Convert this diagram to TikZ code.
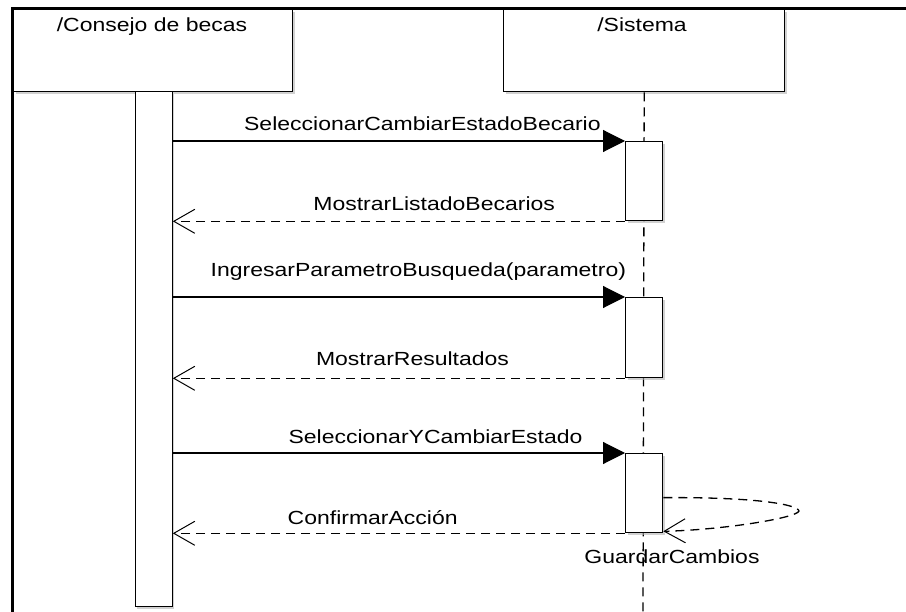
\documentclass[tikz,border=0pt]{standalone}
\usepackage{fontspec}
\setmainfont{Liberation Sans}[FakeStretch=1.21]
\usetikzlibrary{arrows.meta,positioning,shadows}

\begin{document}
\begin{tikzpicture}[x=1pt,y=-1pt,
    txt/.style={font=\fontsize{19}{21}\selectfont, inner sep=0pt},
    lbl/.style={txt, anchor=base},
    boxshadow/.style={drop shadow={shadow xshift=2pt, shadow yshift=-2pt, fill=black!30, opacity=0.6}},
    objbox/.style={draw, line width=1.4pt, fill=white, anchor=north west, inner sep=0pt, boxshadow},
    actbar/.style={draw, line width=1.3pt, fill=white, anchor=north west, inner sep=0pt, minimum width=37, boxshadow},
    lifeline/.style={line width=1.3pt, dash pattern=on 9pt off 6pt},
    call/.style={line width=1.1pt, -{Triangle[length=22pt, width=22pt]}},
    reply/.style={line width=1.3pt, dash pattern=on 9pt off 6pt, -{Straight Barb[length=21pt, width=24pt, line width=1pt]}}]
	%%%%% START %%%%%
	\useasboundingbox (0,0) rectangle (906,612);
	
	% frame
	\draw[line width=3pt] (906,9) -- (12.5,9) -- (12.5,612);
	
	% objects
	\node[objbox, minimum width=279, minimum height=82] (consejo) at (13,9) {};
	\node[lbl] (consejolbl) at (152,32) {/Consejo de becas};
	\node[objbox, minimum width=281, minimum height=82] (sistema) at (503,9) {};
	\node[lbl] (sistemalbl) at (642,32) {/Sistema};
	
	% lifelines
	\node[lbl] (guardar) at (672,563.5) {GuardarCambios};
	\coordinate (sisend) at (643,612);
	\draw[lifeline] (sistema.south) -- (sisend);
	\node[actbar, minimum height=515] (cbar) at (134.5,91) {};
	
	\node[actbar, minimum height=79] (s1) at (625,141) {};
	\node[actbar, minimum height=80] (s2) at (625,297) {};
	\node[actbar, minimum height=79] (s3) at (625,453) {};
	
	% messages
	\draw[call] (cbar.east |- s1.north west) -- (s1.north west)
	  node[lbl, pos=0.552, yshift=10.5pt] (m1) {SeleccionarCambiarEstadoBecario};
	\draw[reply] (s1.south west) -- (cbar.east |- s1.south west)
	  node[lbl, pos=0.422, yshift=10.5pt] (r1) {MostrarListadoBecarios};
	
	\draw[call] (cbar.east |- s2.north west) -- (s2.north west)
	  node[lbl, pos=0.543, yshift=20.5pt] (m2) {IngresarParametroBusqueda(parametro)};
	\draw[reply] (s2.south west) -- (cbar.east |- s2.south west)
	  node[lbl, pos=0.47, yshift=12.5pt] (r2) {MostrarResultados};
	
	\draw[call] (cbar.east |- s3.north west) -- (s3.north west)
	  node[lbl, pos=0.581, yshift=9.5pt] (m3) {SeleccionarYCambiarEstado};
	\draw[reply] (s3.south west) -- (cbar.east |- s3.south west)
	  node[lbl, pos=0.558, yshift=8.5pt] (r3) {ConfirmarAcción};
	
	% self call
	\coordinate (loop) at (799,511);
	\draw[reply] ([yshift=-4.5pt]s3.east) .. controls (760,497) and (798,505) .. (loop)
	  .. controls (797,518) and (722,530) .. ([yshift=2pt]s3.south east);
	
	%%%%% END %%%%%
\end{tikzpicture}
\end{document}
